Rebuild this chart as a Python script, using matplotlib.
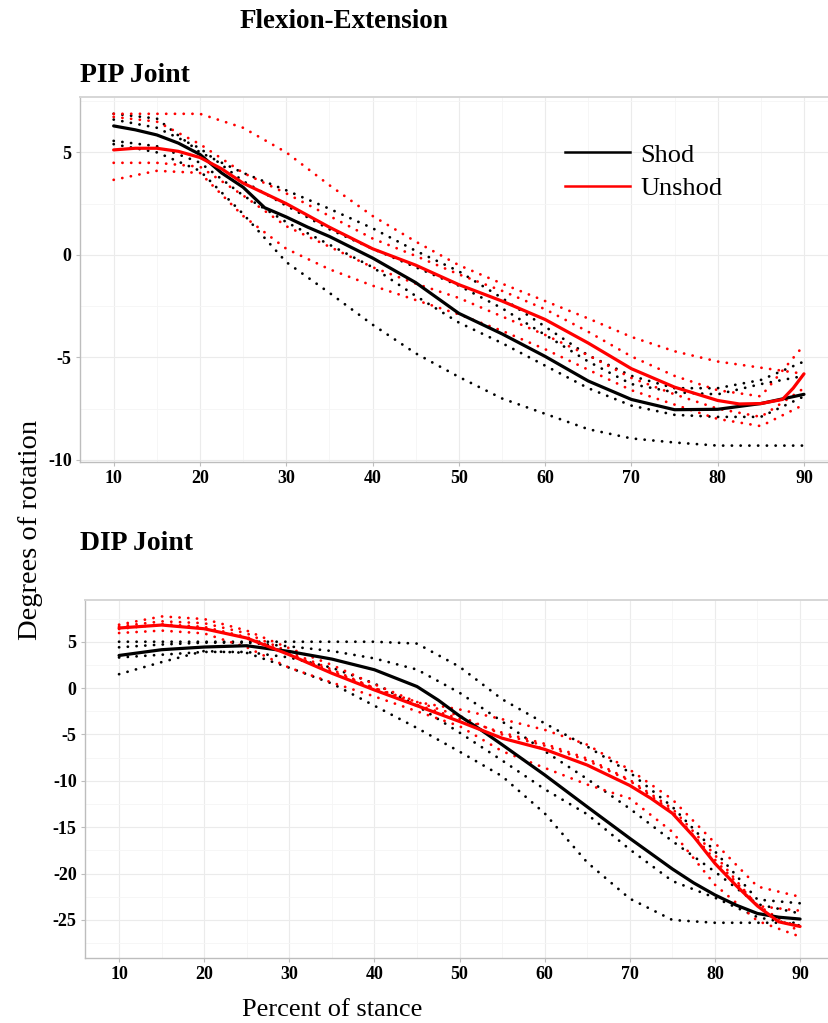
import matplotlib
matplotlib.use("Agg")
import matplotlib.pyplot as plt
from matplotlib.lines import Line2D
from matplotlib.ticker import MultipleLocator

plt.rcParams["font.family"] = ["Liberation Serif", "DejaVu Serif"]
plt.rcParams["axes.unicode_minus"] = False

# shared x grid (percent of stance) for the dotted traces
X = [10, 15, 20, 25, 30, 35, 40, 45, 50, 55, 60, 65, 70, 75, 80, 85, 90]

# ---- PIP joint ----
pip_shod_x = [10, 12.5, 15, 17.5, 20, 22.5, 25, 27.5, 30, 32.5, 35, 40, 45, 50, 55, 60, 65, 70, 75, 80, 85, 90]
pip_shod = [6.29, 6.1, 5.85, 5.45, 4.9, 4.0, 3.3, 2.3, 1.85, 1.35, 0.9, -0.15, -1.35, -2.85,
            -3.85, -4.95, -6.15, -7.05, -7.55, -7.53, -7.25, -6.8]
pip_unshod_x = [10, 12.5, 15, 17.5, 20, 22.5, 25, 30, 35, 40, 45, 50, 55, 60, 65, 70, 75, 80, 82.5, 85, 87.5, 88.75, 90]
pip_unshod = [5.12, 5.2, 5.2, 5.05, 4.75, 4.2, 3.5, 2.5, 1.35, 0.3, -0.5, -1.45, -2.25, -3.15,
              -4.3, -5.55, -6.45, -7.1, -7.27, -7.25, -7.05, -6.5, -5.8]

pip_shod_dots = [
    [6.88, 6.65, 5.0, 4.0, 3.15, 2.25, 1.3, 0.2, -0.8, -2.1, -3.5, -4.9, -5.9, -6.5, -6.5, -6.1, -5.2],
    [6.6, 6.2, 5.2, 3.6, 2.4, 1.25, 0.3, -0.6, -1.5, -2.6, -3.9, -5.2, -6.3, -6.7, -6.8, -6.3, -5.9],
    [5.56, 5.3, 4.5, 2.9, 1.6, 0.5, -0.6, -2.0, -3.3, -4.3, -5.4, -6.5, -7.35, -7.8, -7.9, -7.9, -6.9],
    [5.4, 5.0, 4.1, 2.0, -0.35, -1.85, -3.4, -4.8, -5.95, -7.0, -7.75, -8.5, -8.95, -9.15, -9.3, -9.3, -9.3],
]
pip_unshod_dots = [
    [6.88, 6.88, 6.88, 6.2, 5.0, 3.4, 1.9, 0.65, -0.5, -1.4, -2.25, -3.1, -4.0, -4.7, -5.2, -5.5, -5.8],
    [6.73, 6.5, 5.4, 4.0, 3.0, 1.9, 0.8, -0.05, -0.95, -1.75, -2.65, -3.75, -4.95, -5.9, -6.6, -6.9, -4.4],
    [4.49, 4.49, 4.3, 2.9, 1.4, 0.4, -0.6, -1.4, -2.1, -3.0, -3.9, -4.9, -6.0, -6.8, -7.5, -7.9, -6.5],
    [3.66, 4.1, 4.0, 1.9, 0.3, -0.7, -1.5, -2.2, -2.9, -3.7, -4.6, -5.6, -6.6, -7.3, -8.0, -8.35, -7.3],
]

# ---- DIP joint ----
dip_shod_x = [10, 15, 20, 25, 30, 35, 40, 45, 47.5, 50, 52.5, 55, 60, 65, 70, 75, 77.5, 80, 82.5, 85, 87.5, 90]
dip_shod = [3.52, 4.14, 4.43, 4.57, 3.95, 3.13, 1.98, 0.17, -1.3, -3.0, -4.5, -6.1, -9.36,
            -12.8, -16.2, -19.5, -21.0, -22.3, -23.4, -24.3, -24.7, -24.9]
dip_unshod_x = [10, 15, 20, 25, 30, 35, 40, 45, 50, 55, 60, 65, 70, 72.5, 75, 77.5, 80, 82.5, 85, 87.5, 90]
dip_unshod = [6.48, 6.8, 6.4, 5.4, 3.6, 1.6, -0.2, -1.9, -3.6, -5.4, -6.6, -8.3, -10.5, -11.9,
              -13.5, -16.0, -18.9, -21.3, -23.5, -25.2, -25.7]

dip_shod_dots = [
    [5.0, 5.0, 5.0, 5.0, 5.0, 5.0, 5.0, 4.8, 2.3, -1.2, -3.8, -6.3, -9.1, -12.8, -17.6, -22.8, -23.2],
    [4.4, 4.7, 4.9, 4.9, 4.5, 4.0, 3.2, 2.0, -0.5, -3.6, -6.8, -9.8, -13.0, -16.5, -19.8, -23.3, -24.3],
    [3.3, 3.6, 3.9, 3.9, 3.3, 2.2, 0.5, -1.9, -4.8, -7.8, -10.9, -13.6, -17.4, -20.8, -22.6, -24.7, -25.6],
    [1.5, 2.8, 4.0, 3.8, 2.2, 0.5, -1.9, -4.3, -6.85, -9.5, -13.5, -18.8, -22.7, -25.0, -25.3, -25.3, -25.3],
]
dip_unshod_dots = [
    [6.84, 7.73, 7.45, 6.2, 4.3, 2.5, 0.4, -1.5, -2.3, -3.35, -4.5, -6.1, -8.8, -12.0, -16.7, -21.4, -22.5],
    [6.66, 7.2, 7.0, 5.9, 3.9, 2.0, 0.0, -1.8, -3.3, -4.8, -6.0, -7.6, -9.9, -13.0, -18.0, -23.5, -24.0],
    [6.37, 6.9, 6.6, 5.5, 3.7, 1.8, 0.0, -1.5, -3.0, -5.0, -6.2, -7.8, -10.0, -13.3, -18.5, -23.4, -26.3],
    [5.94, 6.2, 5.9, 4.4, 2.2, 0.6, -0.9, -2.5, -4.1, -6.8, -8.6, -10.4, -11.9, -15.5, -21.2, -25.1, -26.8],
]

SHOD = "#000000"
UNSHOD = "#ff0000"
GRID_MAJ = "#ebebeb"
GRID_MIN = "#f5f5f5"
AXIS = "#bdbdbd"
DOT = (0, (0.05, 3.1))


def draw_panel(ax, shod_x, shod, unshod_x, unshod, shod_dots, unshod_dots, ylim, ystep):
    for ys in shod_dots:
        ax.plot(X, ys, color=SHOD, lw=2.0, linestyle=DOT, dash_capstyle="round", zorder=3)
    for ys in unshod_dots:
        ax.plot(X, ys, color=UNSHOD, lw=2.0, linestyle=DOT, dash_capstyle="round", zorder=3)
    ax.plot(shod_x, shod, color=SHOD, lw=2.3, solid_capstyle="round", zorder=4)
    ax.plot(unshod_x, unshod, color=UNSHOD, lw=2.3, solid_capstyle="round", zorder=4)

    ax.set_ylim(*ylim)
    ax.xaxis.set_major_locator(MultipleLocator(10))
    ax.xaxis.set_minor_locator(MultipleLocator(5))
    ax.yaxis.set_major_locator(MultipleLocator(ystep))
    ax.yaxis.set_minor_locator(MultipleLocator(ystep / 2))
    ax.grid(which="major", color=GRID_MAJ, lw=0.8, zorder=0)
    ax.grid(which="minor", color=GRID_MIN, lw=0.6, zorder=0)
    ax.set_axisbelow(True)
    for s in ["top", "left", "bottom"]:
        ax.spines[s].set_color(AXIS)
        ax.spines[s].set_linewidth(1.0)
    ax.spines["top"].set_linewidth(1.4)
    ax.spines["top"].set_color("#d6d6d6")
    ax.spines["right"].set_visible(False)
    ax.tick_params(which="major", length=3, color=AXIS, width=0.8, pad=3,
                   labelsize=13)
    ax.tick_params(which="minor", length=0)


fig = plt.figure(figsize=(8.29, 10.23), dpi=100)
W, H = 829, 1023

ax1 = fig.add_axes([80 / W, 1 - 462 / H, 749 / W, 365 / H])
draw_panel(ax1, pip_shod_x, pip_shod, pip_unshod_x, pip_unshod,
           pip_shod_dots, pip_unshod_dots, (-10.1, 7.7), 5)
ax1.set_xlim(6.1, 92.9)

ax2 = fig.add_axes([85 / W, 1 - 958 / H, 744 / W, 358 / H])
draw_panel(ax2, dip_shod_x, dip_shod, dip_unshod_x, dip_unshod,
           dip_shod_dots, dip_unshod_dots, (-29.1, 9.5), 5)
ax2.set_xlim(6.0, 93.4)

for ax in (ax1, ax2):
    for lab in ax.get_xticklabels() + ax.get_yticklabels():
        lab.set_fontweight("bold")

handles = [Line2D([0], [0], color=SHOD, lw=1.8), Line2D([0], [0], color=UNSHOD, lw=1.8)]
fig.legend(handles, ["Shod", "Unshod"], loc="upper left",
           bbox_to_anchor=(552 / W, 1 - 130 / H), frameon=False, fontsize=19,
           handlelength=2.45, handletextpad=0.4, labelspacing=0.38, borderpad=0)

fig.text(344 / W, 1 - 22 / H, "Flexion-Extension", ha="center", va="center",
         fontsize=19.5, fontweight="bold")
fig.text(80 / W, 1 - 76 / H, "PIP Joint", ha="left", va="center",
         fontsize=20, fontweight="bold")
fig.text(80 / W, 1 - 543 / H, "DIP Joint", ha="left", va="center",
         fontsize=20, fontweight="bold")
fig.text(31 / W, 1 - 530 / H, "Degrees of rotation", ha="center", va="center",
         rotation=90, fontsize=20.5)
fig.text(332 / W, 1 - 1010 / H, "Percent of stance", ha="center", va="center",
         fontsize=19)

fig.savefig("out.png", dpi=100)
